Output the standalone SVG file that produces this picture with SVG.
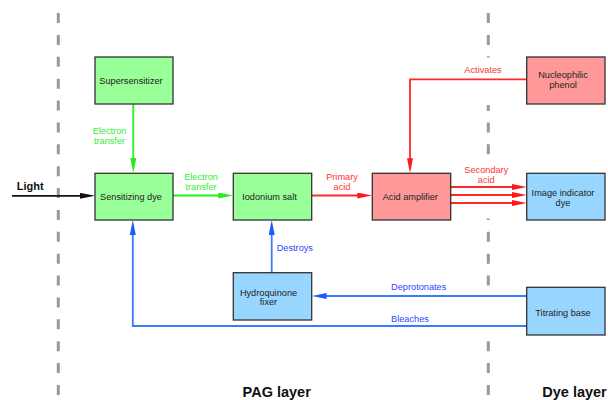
<svg xmlns="http://www.w3.org/2000/svg" width="608" height="400" viewBox="0 0 608 400">
<style>
.node rect{stroke:#333;stroke-width:1.3}
.g rect{fill:#99ff99}
.r rect{fill:#ff9999}
.b rect{fill:#99d6ff}
.node text{font-family:"Liberation Sans",Arial,sans-serif;font-size:9.2px;fill:#222;text-anchor:middle}
.lbl{font-family:"Liberation Sans",Arial,sans-serif;font-size:9.2px;text-anchor:middle}
.edge{fill:none;stroke-width:1.8}
.big{font-family:"Liberation Sans",Arial,sans-serif;font-weight:bold;fill:#111}
.sep{stroke:#999;stroke-width:3;fill:none}
</style>
<defs>
<marker id="ak" markerUnits="userSpaceOnUse" markerWidth="15" markerHeight="6" refX="7" refY="3" orient="auto"><path d="M0,0 L15,3 L0,6 z" fill="#111"/></marker>
<marker id="ag" markerUnits="userSpaceOnUse" markerWidth="15" markerHeight="6" refX="7" refY="3" orient="auto"><path d="M0,0 L15,3 L0,6 z" fill="#22ee22"/></marker>
<marker id="ar" markerUnits="userSpaceOnUse" markerWidth="15" markerHeight="6" refX="7" refY="3" orient="auto"><path d="M0,0 L15,3 L0,6 z" fill="#ff1a1a"/></marker>
<marker id="ab" markerUnits="userSpaceOnUse" markerWidth="15" markerHeight="6" refX="7" refY="3" orient="auto"><path d="M0,0 L15,3 L0,6 z" fill="#1a5cff"/></marker>
</defs>
<rect width="608" height="400" fill="#fff"/>
<g id="separators">
<line class="sep" x1="58.3" y1="13" x2="58.3" y2="396" stroke-dasharray="10 11.88"/>
<path class="sep" d="M488.3 13v10M488.3 35v10M488.3 56.3v1.2M488.3 105v6M488.3 122.4v10M488.3 144.3v10M488.3 218.5v1.5M488.3 231.8v10M488.3 253.7v10M488.3 275.6v10M488.3 341.2v10M488.3 363.1v10M488.3 385v10"/>
</g>
<g id="connectors">
<path class="edge" stroke="#111" d="M12,195.8 H87" marker-end="url(#ak)"/>
<path class="edge" stroke="#22ee22" d="M133.3,104 V165" marker-end="url(#ag)"/>
<path class="edge" stroke="#22ee22" d="M173,195.5 H225.3" marker-end="url(#ag)"/>
<path class="edge" stroke="#ff2a2a" d="M311.7,195.5 H364.3" marker-end="url(#ar)"/>
<path class="edge" stroke="#ff2a2a" d="M450.7,187 H518.7" marker-end="url(#ar)"/>
<path class="edge" stroke="#ff2a2a" d="M450.7,195 H518.7" marker-end="url(#ar)"/>
<path class="edge" stroke="#ff2a2a" d="M450.7,203 H518.7" marker-end="url(#ar)"/>
<path class="edge" stroke="#ff2a2a" d="M526.7,79.3 H410 V165.3" marker-end="url(#ar)"/>
<path class="edge" stroke="#3a7aff" d="M271.7,272.7 V228" marker-end="url(#ab)"/>
<path class="edge" stroke="#3a7aff" d="M526.7,296 H319.7" marker-end="url(#ab)"/>
<path class="edge" stroke="#3a7aff" d="M526.7,326 H132.8 V228" marker-end="url(#ab)"/>
<text class="big" x="16.7" y="190" font-size="11px">Light</text>
<text class="lbl" fill="#33ee33" x="109.5" y="134"><tspan x="109.5">Electron</tspan><tspan x="109.5" dy="10">transfer</tspan></text>
<text class="lbl" fill="#33ee33" x="201" y="180"><tspan x="201">Electron</tspan><tspan x="201" dy="9.5">transfer</tspan></text>
<text class="lbl" fill="#ff3333" x="342" y="180"><tspan x="342">Primary</tspan><tspan x="342" dy="9.5">acid</tspan></text>
<text class="lbl" fill="#ff3333" x="486.3" y="173.3"><tspan x="486.3">Secondary</tspan><tspan x="486.3" dy="10">acid</tspan></text>
<text class="lbl" fill="#ff3333" x="483" y="73.3">Activates</text>
<text class="lbl" fill="#3344ff" x="276.7" y="251" text-anchor="start" style="text-anchor:start">Destroys</text>
<text class="lbl" fill="#3344ff" x="418.7" y="290">Deprotonates</text>
<text class="lbl" fill="#3344ff" x="410" y="322">Bleaches</text>
</g>
<g id="supersensitizer" class="node g"><rect x="95" y="57" width="78" height="47"/><text x="131" y="83.8">Supersensitizer</text></g>
<g id="sensitizing-dye" class="node g"><rect x="95" y="173.3" width="78" height="46.7"/><text x="131" y="200">Sensitizing dye</text></g>
<g id="iodonium-salt" class="node g"><rect x="233.3" y="173.3" width="78.4" height="46.7"/><text x="269.5" y="200">Iodonium salt</text></g>
<g id="acid-amplifier" class="node r"><rect x="372.3" y="173.3" width="78.4" height="46.7"/><text x="410.3" y="200">Acid amplifier</text></g>
<g id="nucleophilic-phenol" class="node r"><rect x="526.7" y="57" width="78.3" height="47"/><text x="563" y="78.3"><tspan x="563">Nucleophilic</tspan><tspan x="563" dy="10">phenol</tspan></text></g>
<g id="image-indicator-dye" class="node b"><rect x="526.7" y="173.3" width="78.3" height="46.7"/><text x="563" y="195.6"><tspan x="563">Image indicator</tspan><tspan x="563" dy="10.3">dye</tspan></text></g>
<g id="hydroquinone-fixer" class="node b"><rect x="233.3" y="272.7" width="78.4" height="47.3"/><text x="268.5" y="295.6"><tspan x="268.5">Hydroquinone</tspan><tspan x="268.5" dy="9.5">fixer</tspan></text></g>
<g id="titrating-base" class="node b"><rect x="526.7" y="287.3" width="78.3" height="47.7"/><text x="563" y="316">Titrating base</text></g>
<text class="big" x="276.7" y="396.5" font-size="14.5px" text-anchor="middle">PAG layer</text>
<text class="big" x="574.5" y="396.5" font-size="14.5px" text-anchor="middle">Dye layer</text>
</svg>
